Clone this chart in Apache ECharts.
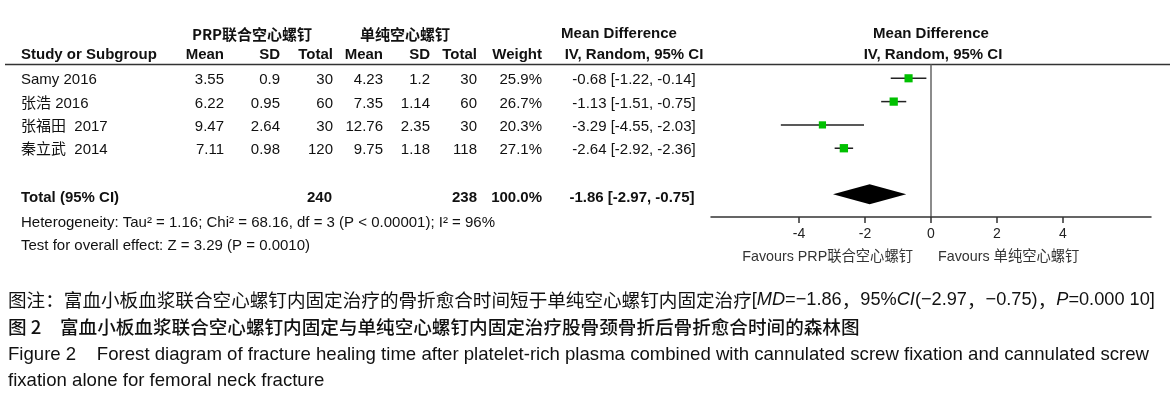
<!DOCTYPE html>
<html>
<head>
<meta charset="utf-8">
<script src="https://cdn.jsdelivr.net/npm/echarts@6/dist/echarts.min.js"></script>
<style>
  html, body { margin: 0; padding: 0; background: #fff; }
  #chart { width: 1170px; height: 399px; }
</style>
</head>
<body>
<div id="chart"></div>
<script>
// Studies (one row each) and the two arms
const STUDIES = ["Samy 2016", "张浩 2016", "张福田  2017", "秦立武  2014"];
const EXP_MEAN = [3.55, 6.22, 9.47, 7.11];
const EXP_SD = [0.9, 0.95, 2.64, 0.98];
const EXP_TOTAL = [30, 60, 30, 120];
const CTL_MEAN = [4.23, 7.35, 12.76, 9.75];
const CTL_SD = [1.2, 1.14, 2.35, 1.18];
const CTL_TOTAL = [30, 60, 30, 118];
const WEIGHT = [25.9, 26.7, 20.3, 27.1];
const MD = [-0.68, -1.13, -3.29, -2.64];
const CI_LOW = [-1.22, -1.51, -4.55, -2.92];
const CI_HIGH = [-0.14, -0.75, -2.03, -2.36];

// pooled: [md, low, high]; totals: [exp, ctl]
const POOLED = [-1.86, -2.97, -0.75];
const POOLED_TOTALS = [240, 238];
const POOLED_WEIGHT = "100.0%";

const X_TICKS = [-4, -2, 0, 2, 4];
const TOTAL_ROW = 4.97;

const FONT = "'Liberation Sans', Arial, 'Noto Sans CJK SC', sans-serif";
const CJK = "'Noto Sans CJK SC', 'Liberation Sans', sans-serif";

const fmtCI = (m, l, h) => `${m.toFixed(2)} [${l.toFixed(2)}, ${h.toFixed(2)}]`;

const el = document.getElementById("chart");
const ch = echarts.init(el);

ch.setOption({
  animation: false,
  backgroundColor: "#fff",
  grid: { left: 711, right: 19, top: 65, bottom: 182 },
  xAxis: {
    type: "value",
    min: -20 / 3,
    max: 20 / 3,
    axisLine: { onZero: false, lineStyle: { color: "#333", width: 1.5 } },
    axisTick: { customValues: X_TICKS, length: 6, lineStyle: { color: "#333", width: 1.5 } },
    axisLabel: { customValues: X_TICKS, fontSize: 14, color: "#222", margin: 10, fontFamily: FONT },
    splitLine: { show: false },
  },
  yAxis: {
    type: "value",
    inverse: true,
    min: -0.57,
    max: 5.95,
    axisLine: { show: true, onZero: true, lineStyle: { color: "#666", width: 1.5 } },
    axisTick: { show: false },
    axisLabel: { show: false },
    splitLine: { show: false },
  },
  series: [
    {
      name: "ci",
      type: "custom",
      data: MD.map((_, i) => [CI_LOW[i], CI_HIGH[i], i]),
      renderItem: (params, api) => {
        const a = api.coord([api.value(0), api.value(2)]);
        const b = api.coord([api.value(1), api.value(2)]);
        return {
          type: "line",
          shape: { x1: a[0], y1: a[1], x2: b[0], y2: b[1] },
          style: { stroke: "#222", lineWidth: 1.5 },
        };
      },
      z: 2,
    },
    {
      name: "md",
      type: "scatter",
      symbol: "rect",
      data: MD.map((m, i) => [m, i, WEIGHT[i]]),
      symbolSize: (v) => Math.sqrt(v[2]) * 1.6,
      itemStyle: { color: "#00c000", opacity: 1 },
      z: 3,
    },
    {
      name: "pooled",
      type: "custom",
      data: [[POOLED[0], POOLED[1], POOLED[2], TOTAL_ROW]],
      renderItem: (params, api) => {
        const row = api.value(3);
        const c = api.coord([api.value(0), row]);
        const l = api.coord([api.value(1), row]);
        const r = api.coord([api.value(2), row]);
        const h = 10;
        return {
          type: "polygon",
          shape: { points: [[l[0], c[1]], [c[0], c[1] - h], [r[0], c[1]], [c[0], c[1] + h]] },
          style: { fill: "#000" },
        };
      },
      z: 3,
    },
  ],
});

// table text placed on the same row scale as the forest plot
const rowY = (i) => ch.convertToPixel({ gridIndex: 0 }, [0, i])[1] + 2;
const txt = (text, x, y, opt = {}) => ({
  type: "text",
  silent: true,
  style: Object.assign({
    text, x, y,
    fontSize: 15,
    fontFamily: FONT,
    fill: "#111",
    textAlign: "right",
    textVerticalAlign: "middle",
  }, opt),
});
const bold = { fontWeight: "bold" };

const g = [];
// header
g.push(txt("PRP联合空心螺钉", 252, 34, { textAlign: "center", fontFamily: CJK, fontWeight: "bold", fontSize: 15 }));
g.push(txt("单纯空心螺钉", 405, 34, { textAlign: "center", fontFamily: CJK, fontWeight: "bold", fontSize: 15 }));
g.push(txt("Mean Difference", 619, 34, { textAlign: "center", ...bold }));
g.push(txt("Mean Difference", 931, 34, { textAlign: "center", ...bold }));
g.push(txt("Study or Subgroup", 21, 55, { textAlign: "left", ...bold }));
[["Mean", 224], ["SD", 280], ["Total", 333], ["Mean", 383], ["SD", 430], ["Total", 477], ["Weight", 542]]
  .forEach(([t, x]) => g.push(txt(t, x, 55, bold)));
g.push(txt("IV, Random, 95% CI", 634, 55, { textAlign: "center", ...bold }));
g.push(txt("IV, Random, 95% CI", 933, 55, { textAlign: "center", ...bold }));
g.push({ type: "line", silent: true, shape: { x1: 5, y1: 64.5, x2: 1170, y2: 64.5 }, style: { stroke: "#333", lineWidth: 1.6 } });

// study rows
STUDIES.forEach((s, i) => {
  const y = rowY(i);
  g.push(txt(s, 21, y, { textAlign: "left" }));
  g.push(txt(String(EXP_MEAN[i]), 224, y));
  g.push(txt(String(EXP_SD[i]), 280, y));
  g.push(txt(String(EXP_TOTAL[i]), 333, y));
  g.push(txt(String(CTL_MEAN[i]), 383, y));
  g.push(txt(String(CTL_SD[i]), 430, y));
  g.push(txt(String(CTL_TOTAL[i]), 477, y));
  g.push(txt(WEIGHT[i].toFixed(1) + "%", 542, y));
  g.push(txt(fmtCI(MD[i], CI_LOW[i], CI_HIGH[i]), 634, y, { textAlign: "center" }));
});

// total row
const ty = rowY(TOTAL_ROW) + 2;
g.push(txt("Total (95% CI)", 21, ty, { textAlign: "left", ...bold }));
g.push(txt(String(POOLED_TOTALS[0]), 332, ty, bold));
g.push(txt(String(POOLED_TOTALS[1]), 477, ty, bold));
g.push(txt(POOLED_WEIGHT, 542, ty, bold));
g.push(txt(fmtCI(POOLED[0], POOLED[1], POOLED[2]), 632, ty, { textAlign: "center", ...bold }));
g.push(txt("Heterogeneity: Tau² = 1.16; Chi² = 68.16, df = 3 (P < 0.00001); I² = 96%", 21, 223, { textAlign: "left", fontSize: 15 }));
g.push(txt("Test for overall effect: Z = 3.29 (P = 0.0010)", 21, 246, { textAlign: "left", fontSize: 15 }));

// favours labels
g.push(txt("Favours PRP联合空心螺钉", 913, 257, { fontSize: 14.3, fill: "#333" }));
g.push(txt("Favours 单纯空心螺钉", 938, 257, { textAlign: "left", fontSize: 14.3, fill: "#333" }));

// caption
const CAP = "'Liberation Sans', 'Noto Sans CJK SC', sans-serif";
g.push({
  type: "text", silent: true,
  style: {
    x: 8, y: 300, textVerticalAlign: "middle", fill: "#111",
    text: "{c|图注：富血小板血浆联合空心螺钉内固定治疗的骨折愈合时间短于单纯空心螺钉内固定治疗}{e|[}{i|MD}{e|=−1.86}{c|，}{e|95%}{i|CI}{e|(−2.97}{c|，}{e|−0.75)}{c|，}{i|P}{e|=0.000 10]}",
    rich: {
      c: { fontSize: 18.6, fontFamily: CJK, fill: "#111" },
      e: { fontSize: 18.2, fontFamily: CAP, fill: "#111" },
      i: { fontSize: 18.2, fontFamily: CAP, fontStyle: "italic", fill: "#111" },
    },
  },
});
g.push(txt("图 2　富血小板血浆联合空心螺钉内固定与单纯空心螺钉内固定治疗股骨颈骨折后骨折愈合时间的森林图", 8, 327, { textAlign: "left", fontSize: 18.6, fontFamily: CJK, fontWeight: 500 }));
g.push(txt("Figure 2    Forest diagram of fracture healing time after platelet-rich plasma combined with cannulated screw fixation and cannulated screw", 8, 355, { textAlign: "left", fontSize: 18.6, fontFamily: CAP }));
g.push(txt("fixation alone for femoral neck fracture", 8, 381, { textAlign: "left", fontSize: 18.6, fontFamily: CAP }));

ch.setOption({ graphic: g });
</script>
</body>
</html>
